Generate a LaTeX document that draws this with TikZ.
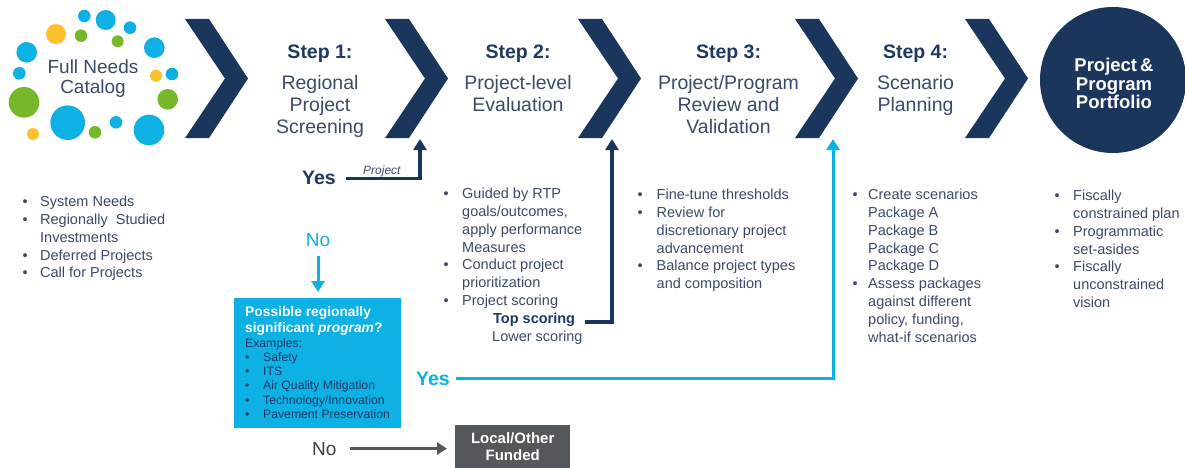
\documentclass[tikz,border=0pt]{standalone}
\usepackage{fontspec}
\setmainfont{Liberation Sans}
\usetikzlibrary{arrows.meta}
\definecolor{navy}{HTML}{1B365D}
\definecolor{titlec}{HTML}{1F3864}
\definecolor{bodyc}{HTML}{3B4A68}
\definecolor{cyanc}{HTML}{0DB1E4}
\definecolor{greenc}{HTML}{76B82A}
\definecolor{yellowc}{HTML}{FDC12E}
\definecolor{grayc}{HTML}{54575B}
\definecolor{graytext}{HTML}{404040}
\newlength\bwd
\newcommand\bu{\makebox[\bwd][l]{\textbullet}}
\newcommand\ci{\hspace*{\bwd}}
\begin{document}
\begin{tikzpicture}[x=1pt,y=-1pt,
  body/.style={font=\fontsize{14.5}{17.8}\selectfont, text=bodyc, align=left, inner sep=0pt, anchor=north west},
  bodyb/.style={body, font=\bfseries\fontsize{14.5}{17.8}\selectfont, text=titlec},
  steptitle/.style={font=\bfseries\fontsize{19.5}{22}\selectfont, text=titlec, inner sep=0pt, anchor=base},
  stepbody/.style={font=\fontsize{19.5}{22}\selectfont, text=bodyc, align=center, inner sep=0pt, anchor=north},
  catlabel/.style={font=\fontsize{19}{20}\selectfont, text=bodyc, align=center, inner sep=0pt, anchor=north},
  porttext/.style={font=\bfseries\fontsize{18.5}{18.5}\selectfont, text=white, align=center, inner sep=0pt, anchor=north},
  bub/.style={fill=#1},
  navyarr/.style={draw=navy, line width=3.5pt, -{Triangle[width=13pt,length=11pt]}},
  cyanarr/.style={draw=cyanc, line width=3pt, -{Triangle[width=13pt,length=11pt]}},
  grayarr/.style={draw=grayc, line width=3pt, -{Triangle[width=12pt,length=10pt]}},
  yesnavy/.style={font=\bfseries\fontsize{19.5}{20}\selectfont, text=titlec, inner sep=0pt, anchor=base west},
  yescyan/.style={font=\bfseries\fontsize{19.5}{20}\selectfont, text=cyanc, inner sep=0pt, anchor=base west},
  nocyan/.style={font=\fontsize{19}{20}\selectfont, text=cyanc, inner sep=0pt, anchor=base},
  nogray/.style={font=\fontsize{19}{20}\selectfont, text=graytext, inner sep=0pt, anchor=base west},
  progbox/.style={fill=cyanc, minimum width=167pt, minimum height=130pt, inner sep=0pt, anchor=north west},
  localbox/.style={fill=grayc, minimum width=115pt, minimum height=43pt, inner sep=0pt, anchor=north west,
     font=\bfseries\fontsize{15}{17.5}\selectfont, text=white, align=center},
]
\useasboundingbox (0,0) rectangle (1185,468);
\fill[white] (0,0) rectangle (1185,468);

% bubbles
\fill[bub=cyanc] (84.3,16) circle[radius=6.3pt];
\fill[bub=cyanc] (105.7,20) circle[radius=10pt];
\fill[bub=cyanc] (130,27.7) circle[radius=6.3pt];
\fill[bub=yellowc] (56,34) circle[radius=10pt];
\fill[bub=greenc] (81,35.7) circle[radius=6.3pt];
\fill[bub=greenc] (117.7,41.3) circle[radius=6pt];
\fill[bub=cyanc] (154.3,47.7) circle[radius=10.3pt];
\fill[bub=cyanc] (26.7,52.3) circle[radius=10.3pt];
\fill[bub=cyanc] (19.3,73.3) circle[radius=6.3pt];
\fill[bub=yellowc] (156,75.7) circle[radius=6pt];
\fill[bub=cyanc] (172,74) circle[radius=6.3pt];
\fill[bub=greenc] (24,102.3) circle[radius=15.3pt];
\fill[bub=greenc] (167.7,99.3) circle[radius=10.3pt];
\fill[bub=cyanc] (67.7,122.7) circle[radius=17.3pt];
\fill[bub=cyanc] (116,122.3) circle[radius=6.3pt];
\fill[bub=greenc] (95,132.3) circle[radius=6.3pt];
\fill[bub=yellowc] (33,134) circle[radius=6pt];
\fill[bub=cyanc] (149,130) circle[radius=15.3pt];
\node[catlabel] (cat) at (93,60) {Full Needs\\Catalog};

% chevrons
\foreach \cx in {185,385,578,795,965}
  \fill[navy] (\cx,19) -- ++(24,0) -- ++(39,59.5) -- ++(-39,59.5) -- ++(-24,0) -- ++(40,-59.5) -- cycle;

% portfolio circle
\node[circle, fill=navy, minimum size=146pt, inner sep=0pt] (port) at (1113,80) {};
\node[porttext] (portt) at (1114,58) {Project\,\&\\Program\\Portfolio};

% step titles
\node[steptitle] (t1) at (320,59) {Step 1:};
\node[stepbody] (b1) at (320,75) {Regional\\Project\\Screening};
\node[steptitle] (t2) at (518,59) {Step 2:};
\node[stepbody] (b2) at (518,75) {Project-level\\Evaluation};
\node[steptitle] (t3) at (728.5,59) {Step 3:};
\node[stepbody] (b3) at (728.5,75) {Project/Program\\Review and\\Validation};
\node[steptitle] (t4) at (915.5,59) {Step 4:};
\node[stepbody] (b4) at (915.5,75) {Scenario\\Planning};

% lists
\setlength\bwd{17.5pt}
\node[body] (needs) at (22.5,196) {\bu System Needs\\\bu Regionally\ \ Studied\\\ci Investments\\\bu Deferred Projects\\\bu Call for Projects};
\setlength\bwd{18.5pt}
\node[body] (l2) at (443.5,188) {\bu Guided by RTP\\\ci goals/outcomes,\\\ci apply performance\\\ci Measures\\\bu Conduct project\\\ci prioritization\\\bu Project scoring};
\node[bodyb] (top) at (493,313) {Top scoring};
\node[body] (low) at (492,331) {Lower scoring};
\setlength\bwd{19pt}
\node[body] (l3) at (637.5,189) {\bu Fine-tune thresholds\\\bu Review for\\\ci discretionary project\\\ci advancement\\\bu Balance project types\\\ci and composition};
\setlength\bwd{15.5pt}
\node[body] (l4) at (852.5,189) {\bu Create scenarios\\\ci Package A\\\ci Package B\\\ci Package C\\\ci Package D\\\bu Assess packages\\\ci against different\\\ci policy, funding,\\\ci what-if scenarios};
\setlength\bwd{18.5pt}
\node[body] (l5) at (1054.5,190) {\bu Fiscally\\\ci constrained plan\\\bu Programmatic\\\ci set-asides\\\bu Fiscally\\\ci unconstrained\\\ci vision};

% Yes (project) path
\node[yesnavy] (yes1) at (302,184) {Yes};
\node[font=\itshape\fontsize{12}{12}\selectfont, text=bodyc, inner sep=0pt, anchor=base west] (projl) at (363,174) {Project};
\coordinate (a1) at (420,139);
\draw[navyarr] ([xshift=10pt,yshift=-1pt]yes1.east) -| (a1);

% top scoring path
\coordinate (a2) at (612,139);
\draw[navyarr] ([xshift=10pt,yshift=-2pt]top.east) -| (a2);

% No -> program box
\node[nocyan] (no1) at (318,246) {No};
\node[progbox] (prog) at (234,298) {};
\draw[cyanarr, shorten <=10pt, shorten >=6pt] (no1.south) -- (no1.south |- prog.north);
\node[font=\bfseries\fontsize{13.8}{16}\selectfont, text=white, align=left, inner sep=0pt, anchor=north west] (progh) at (245,306) {Possible regionally\\significant \textit{program}?};
\setlength\bwd{18pt}
\node[font=\fontsize{12.2}{14.3}\selectfont, text=titlec, align=left, inner sep=0pt, anchor=north west] (progex) at (245,338) {Examples:\\\bu Safety\\\bu ITS\\\bu Air Quality Mitigation\\\bu Technology/Innovation\\\bu Pavement Preservation};

% Yes (program) path
\node[yescyan] (yes2) at (416,385) {Yes};
\coordinate (a3) at (833,139);
\draw[cyanarr] ([xshift=6pt]yes2.east) -| (a3);

% No -> local
\node[nogray] (no2) at (312,455) {No};
\node[localbox] (local) at (455,425) {Local/Other\\Funded};
\draw[grayarr, shorten >=8pt] ([xshift=13pt]no2.east) -- (no2.east -| local.west);
\end{tikzpicture}
\end{document}
